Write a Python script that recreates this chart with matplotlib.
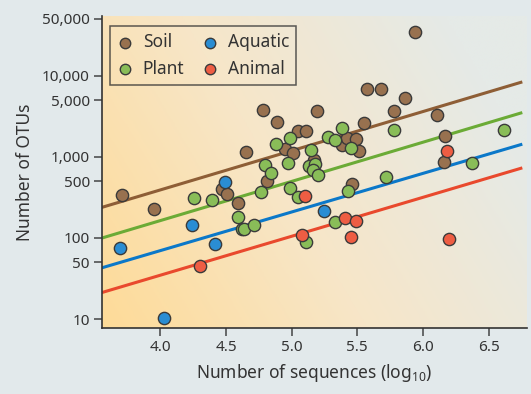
import numpy as np
import matplotlib.pyplot as plt
from matplotlib.colors import LinearSegmentedColormap
from matplotlib.ticker import FixedLocator, NullLocator

plt.rcParams['font.family'] = ['Noto Sans', 'DejaVu Sans']
plt.rcParams['mathtext.fontset'] = 'custom'
plt.rcParams['mathtext.rm'] = 'Noto Sans'

# log10(sequences), OTU counts
soil_x = [3.71, 3.95, 4.47, 4.51, 4.59, 4.65, 4.78, 4.81, 4.89, 4.95, 5.01, 5.05, 5.11, 5.17, 5.19,
          5.38, 5.42, 5.49, 5.51, 5.46, 5.55, 5.57, 5.68, 5.78, 5.86, 5.94, 6.11, 6.17, 6.16]
soil_y = [338, 229, 406, 352, 272, 1130, 3775, 507, 2650, 1248, 1114, 2100, 2100, 914, 3670,
          1400, 1706, 1644, 1180, 462, 2590, 6790, 6850, 3670, 5360, 34600, 3250, 1800, 855]

plant_x = [4.26, 4.39, 4.59, 4.62, 4.64, 4.71, 4.77, 4.80, 4.84, 4.88, 4.97, 4.99, 4.99, 5.05, 5.11,
           5.13, 5.18, 5.16, 5.20, 5.15, 5.28, 5.33, 5.38, 5.45, 5.43, 5.33, 5.72, 5.78, 6.37, 6.62]
plant_y = [313, 297, 182, 128, 127, 146, 363, 792, 637, 1440, 845, 1720, 409, 322, 90,
           771, 815, 687, 597, 1213, 1770, 1610, 2230, 1265, 382, 155, 564, 2140, 826, 2120]

aquatic_x = [3.69, 4.03, 4.24, 4.42, 4.49, 5.25]
aquatic_y = [76, 10.4, 144, 85, 493, 216]

animal_x = [4.30, 5.10, 5.08, 5.41, 5.49, 5.45, 6.18, 6.20]
animal_y = [44.6, 324, 108, 175, 163, 104, 1190, 96]

# regression lines: log10(OTUs) = slope * x + intercept
fit_slope = [0.483, 0.483, 0.476, 0.480]
fit_icept = [0.659, 0.281, -0.061, -0.380]

labels = ['Soil', 'Plant', 'Aquatic', 'Animal']
dot_colors = ['#98714f', '#89bd58', '#2a8dd3', '#ee5d43']
line_colors = ['#8e5e36', '#6bab36', '#0b78c9', '#e9492d']

yticks = [10, 50, 100, 500, 1000, 5000, 10000, 50000]
ytick_labels = ['10', '50', '100', '500', '1,000', '5,000', '10,000', '50,000']
xticks = [4.0, 4.5, 5.0, 5.5, 6.0, 6.5]

fig = plt.figure(figsize=(5.31, 3.94), dpi=100, facecolor='#e2e9eb')
ax = fig.add_axes([0.193, 0.168, 0.799, 0.791])
ax.set_facecolor('none')

# background gradient: orange at lower left, pale grey at upper right
cmap = LinearSegmentedColormap.from_list('bg', ['#fedb98', '#f7e6c8', '#e5eae7'])
gx, gy = np.meshgrid(np.linspace(0, 1, 200), np.linspace(0, 1, 200))
grad = np.clip(0.8 * gx + 0.35 * gy, 0, 1)
ax.imshow(grad, cmap=cmap, extent=[0, 1, 0, 1], origin='lower', transform=ax.transAxes,
          aspect='auto', zorder=0, interpolation='bilinear')

xs = [soil_x, plant_x, aquatic_x, animal_x]
ys = [soil_y, plant_y, aquatic_y, animal_y]

xl = np.array([3.56, 6.745])
for i in range(4):
    ax.plot(xl, 10 ** (fit_slope[i] * xl + fit_icept[i]), color=line_colors[i], lw=2.2, zorder=2)

for i in range(4):
    ax.scatter(xs[i], ys[i], s=78, color=dot_colors[i], edgecolor='#3a3a3a', linewidth=1.0,
               zorder=3, label=labels[i])

ax.set_yscale('log')
ax.set_xlim(3.56, 6.79)
ax.set_ylim(7.8, 54000)
ax.yaxis.set_major_locator(FixedLocator(yticks))
ax.yaxis.set_minor_locator(NullLocator())
ax.set_yticklabels(ytick_labels)
ax.set_xticks(xticks)
ax.set_xticklabels(['%.1f' % v for v in xticks])

for s in ['top', 'right']:
    ax.spines[s].set_visible(False)
for s in ['left', 'bottom']:
    ax.spines[s].set_color('#333333')
    ax.spines[s].set_linewidth(1.2)
ax.tick_params(axis='both', direction='out', length=6, width=1.1, color='#444444',
               labelsize=11, labelcolor='#333333', pad=3)

ax.set_ylabel('Number of OTUs', fontsize=12.5, color='#333333', labelpad=6)
ax.set_xlabel(r'Number of sequences (log$_{10}$)', fontsize=12.5, color='#333333', labelpad=5)

leg = ax.legend(ncol=2, loc='upper left', bbox_to_anchor=(0.017, 0.968), borderaxespad=0,
                frameon=True, fancybox=False, fontsize=12.5, handlelength=1.0, handletextpad=0.5,
                columnspacing=1.0, labelspacing=0.5, borderpad=0.4, markerscale=0.85)
leg.get_frame().set_edgecolor('#333333')
leg.get_frame().set_facecolor('none')
leg.get_frame().set_linewidth(1.1)
for t in leg.get_texts():
    t.set_color('#333333')

fig.savefig('out.png', dpi=100, facecolor=fig.get_facecolor())
